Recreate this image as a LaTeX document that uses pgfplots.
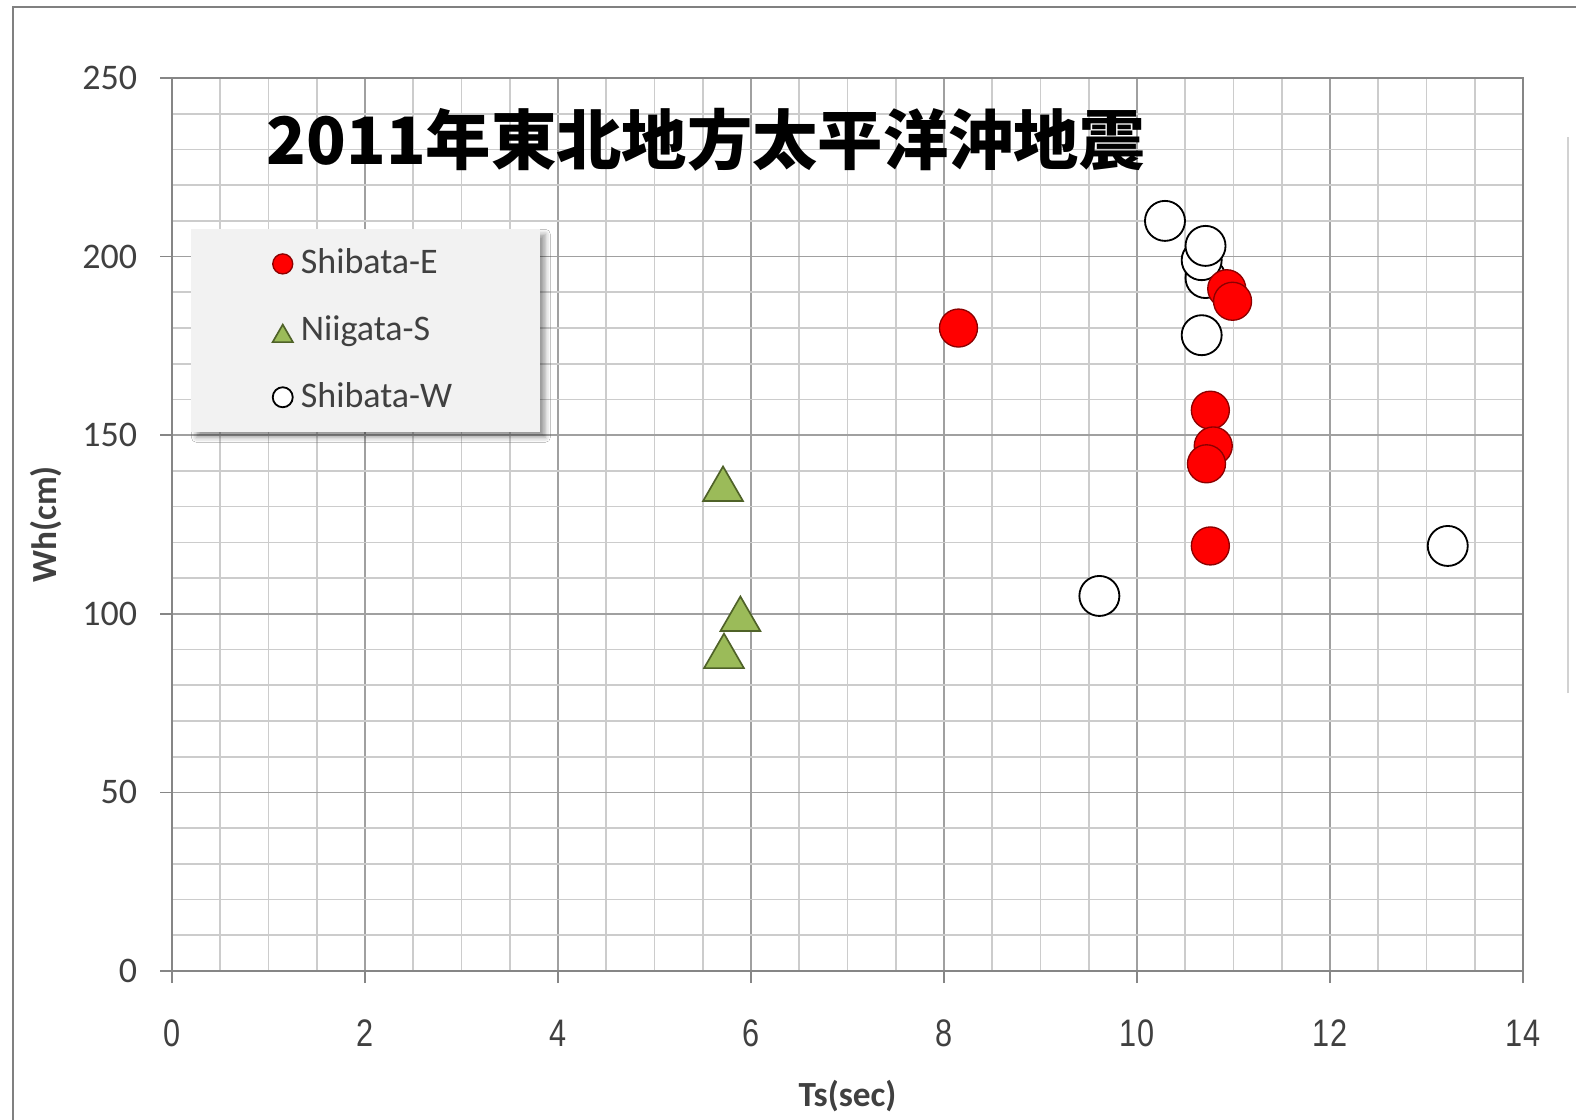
\documentclass[border=0pt]{standalone}
\usepackage{fontspec}
\usepackage{pgfplots}
\pgfplotsset{compat=1.18}
\usetikzlibrary{shadows.blur}
\setmainfont{Carlito}
\newfontfamily\cjk{Noto Sans CJK JP}
\newfontfamily\arialf{Liberation Sans}
\definecolor{majgrid}{HTML}{A0A0A0}
\definecolor{mingrid}{HTML}{CCCCCC}
\definecolor{axgray}{HTML}{868686}
\definecolor{txtgray}{HTML}{404040}
\definecolor{redfill}{HTML}{FF0000}
\definecolor{reddraw}{HTML}{8C0000}
\definecolor{grnfill}{HTML}{9BBB59}
\definecolor{grndraw}{HTML}{4F6228}
\begin{document}
\begin{tikzpicture}
\useasboundingbox (0,0) rectangle (472.8pt,335.7pt);
\fill[white] (0,0) rectangle (472.8pt,335.7pt);
\draw[color=gray, line width=0.7pt] (3.9pt,-2pt) -- (3.9pt,333.6pt) -- (476pt,333.6pt);
\draw[gray!35, line width=0.6pt] (470.4pt,127.8pt) -- (470.4pt,294.6pt);
\begin{axis}[
  scale only axis, width=405.3pt, height=267.9pt,
  at={(51.6pt,44.4pt)}, anchor=south west,
  xmin=0, xmax=14, ymin=0, ymax=250,
  xtick={0,2,...,14}, ytick={0,50,...,250},
  minor xtick={0,0.5,...,14}, minor ytick={0,10,...,250},
  grid=both,
  major grid style={majgrid, line width=0.5pt},
  minor grid style={mingrid, line width=0.5pt},
  tick align=outside, major tick length=3.6pt, minor tick length=0pt,
  xtick pos=bottom, ytick pos=left,
  tick style={axgray, line width=0.5pt},
  axis line style={axgray, line width=0.6pt},
  /pgf/number format/assume math mode=true,
  yticklabel style={font=\fontsize{10.8}{12}\selectfont, text=txtgray, xshift=-3.3pt},
  xticklabel style={font=\arialf\fontsize{11.5}{13}\selectfont, text=txtgray, yshift=-7.5pt},
  xticklabel={\scalebox{0.8}[1]{\pgfmathprintnumber{\tick}}},
  xlabel={Ts(sec)}, ylabel={Wh(cm)},
  every axis x label/.style={at={(axis description cs:0.5,-0.14)}, anchor=center, font=\bfseries\fontsize{10.6}{12}\selectfont, text=txtgray},
  every axis y label/.style={at={(axis description cs:-0.0933,0.5)}, rotate=90, anchor=center, font=\bfseries\fontsize{10.6}{12}\selectfont, text=txtgray},
  legend cell align=left,
  reverse legend,
  legend style={at={(rel axis cs:0.074,0.8075)}, anchor=north west, draw=none, fill=none,
    font=\fontsize{10.8}{13}\selectfont, text=txtgray, inner sep=0pt, row sep=12pt, column sep=2.4pt,
    nodes={inner sep=0pt, text height=7pt, text depth=1pt}},
  legend image code/.code={\draw[#1] plot coordinates {(0pt,0pt)};},
  legend image post style={mark size=3pt},
]
\fill[gray!10, blur shadow={shadow xshift=1.6pt, shadow yshift=-1.6pt, shadow blur radius=1.5pt, shadow opacity=40}]
  (rel axis cs:0.0141,0.831) rectangle (rel axis cs:0.2724,0.6036);
\node[font=\cjk\bfseries\fontsize{19.6}{22}\selectfont, anchor=center] at (rel axis cs:0.395,0.9306) {2011年東北地方太平洋沖地震};
\addplot[only marks, mark=*, mark size=6pt, mark options={fill=white, draw=black, line width=0.55pt}]
  coordinates {(10.29,210) (10.67,178) (9.61,105) (13.22,119) (10.71,194) (10.67,199) (10.71,203)};
\addlegendentry{Shibata-W}
\addplot[only marks, mark=triangle*, mark size=6.9pt, mark options={fill=grnfill, draw=grndraw, line width=0.5pt, yshift=-1.7pt}, legend image post style={mark size=3.5pt}]
  coordinates {(5.71,136.4) (5.89,100) (5.72,89.6)};
\addlegendentry{Niigata-S}
\addplot[only marks, mark=*, mark size=5.7pt, mark options={fill=redfill, draw=reddraw, line width=0.4pt}]
  coordinates {(8.15,180) (10.93,191) (10.99,187.5) (10.76,157) (10.79,147) (10.72,142) (10.76,119)};
\addlegendentry{Shibata-E}
\end{axis}
\end{tikzpicture}
\end{document}
